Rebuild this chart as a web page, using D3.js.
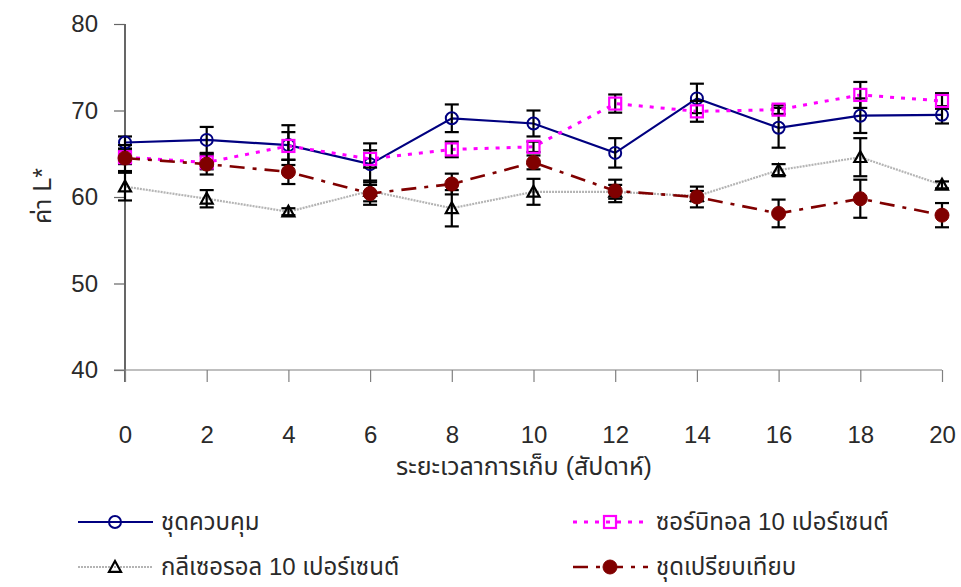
<!DOCTYPE html>
<html>
<head>
<meta charset="utf-8">
<script src="https://cdn.jsdelivr.net/npm/d3@7"></script>
<style>
  html, body { margin: 0; padding: 0; background: #fff; }
  svg { display: block; }
  text { font-family: "Liberation Sans", Arial, "Noto Sans Thai", "Noto Sans", sans-serif; fill: #2a2a2a; }
</style>
</head>
<body>
<svg id="chart" width="961" height="587"></svg>
<script>
// Storage time (weeks)
const weeks = [0, 2, 4, 6, 8, 10, 12, 14, 16, 18, 20];

// L* values with error (±) per treatment
const control       = [66.3, 66.6, 66.0, 63.8, 69.1, 68.5, 65.1, 71.4, 68.0, 69.4, 69.5];
const controlErr    = [0.7, 1.5, 2.3, 2.4, 1.6, 1.5, 1.7, 1.7, 2.3, 2.0, 1.0];
const sorbitol      = [64.6, 64.0, 65.9, 64.4, 65.5, 65.8, 70.8, 69.9, 70.1, 71.8, 71.1];
const sorbitolErr   = [0.8, 0.8, 1.6, 1.0, 0.9, 0.6, 1.05, 1.2, 0.5, 1.5, 0.9];
const glycerol      = [61.2, 59.8, 58.3, 60.7, 58.7, 60.6, 60.6, 60.1, 63.1, 64.6, 61.4];
const glycerolErr   = [1.6, 1.0, 0.4, 1.2, 2.1, 1.5, 0.8, 0.6, 0.7, 2.2, 0.4];
const comparison    = [64.5, 63.8, 62.9, 60.4, 61.5, 64.0, 60.7, 60.0, 58.1, 59.8, 57.9];
const comparisonErr = [1.5, 1.2, 1.4, 1.3, 1.2, 0.8, 1.3, 1.2, 1.6, 2.2, 1.4];

const yTicks = [40, 50, 60, 70, 80];
const seriesNames = ["ชุดควบคุม", "ซอร์บิทอล 10 เปอร์เซนต์", "กลีเซอรอล 10 เปอร์เซนต์", "ชุดเปรียบเทียบ"];
const xTitle = "ระยะเวลาการเก็บ (สัปดาห์)";
const yTitle = "ค่า L*";

const svg = d3.select("#chart");
const x = d3.scaleLinear().domain([0, 20]).range([125, 942]);
const y = d3.scaleLinear().domain([40, 80]).range([370, 24]);

// Axes
const yAxis = svg.append("g").attr("transform", "translate(125,0)")
  .call(d3.axisLeft(y).tickValues(yTicks).tickSize(11).tickPadding(16).tickFormat(d3.format("d")));
yAxis.select(".domain").attr("stroke", "#000").attr("stroke-width", 1.2).attr("d", "M0,24V382");
yAxis.selectAll(".tick line").attr("stroke", "#666").attr("stroke-width", 1.2);
yAxis.selectAll(".tick text").style("font-size", "24px").attr("fill", "#2a2a2a");

const xAxis = svg.append("g").attr("transform", "translate(0,370)")
  .call(d3.axisBottom(x).tickValues(weeks).tickSize(12).tickPadding(44).tickFormat(d3.format("d")));
xAxis.select(".domain").attr("stroke", "#808080").attr("stroke-width", 1.2).attr("d", "M114,0H942");
xAxis.selectAll(".tick line").attr("stroke", "#808080").attr("stroke-width", 1.2);
xAxis.selectAll(".tick text").style("font-size", "24px").attr("fill", "#2a2a2a");
xAxis.select(".domain").raise();

svg.append("text").attr("x", 524).attr("y", 475).attr("text-anchor", "middle")
  .style("font-size", "25px").text(xTitle);
svg.append("text").attr("transform", "translate(51,196) rotate(-90)").attr("text-anchor", "middle")
  .style("font-size", "25px").text(yTitle);

// Series styles
const styles = [
  { vals: control, err: controlErr, color: "#000080", width: 2.2, dash: null, marker: "circle" },
  { vals: sorbitol, err: sorbitolErr, color: "#ff00ff", width: 3, dash: "4,7", marker: "square" },
  { vals: glycerol, err: glycerolErr, color: "#b4b4b4", width: 2.2, dash: "2,1", marker: "triangle" },
  { vals: comparison, err: comparisonErr, color: "#800000", width: 2.6, dash: "15,8,4,8", marker: "dot" }
];

function drawMarker(g, kind, cx, cy, color, legend) {
  if (kind === "circle") {
    g.append("circle").attr("cx", cx).attr("cy", cy).attr("r", 6)
      .attr("fill", "none").attr("stroke", color).attr("stroke-width", 2);
  } else if (kind === "square") {
    g.append("rect").attr("x", cx - 6).attr("y", cy - 6).attr("width", 12).attr("height", 12)
      .attr("fill", "none").attr("stroke", color).attr("stroke-width", 2.2);
  } else if (kind === "triangle") {
    const s = 6;
    g.append("path").attr("d", `M${cx},${cy - s}L${cx + s},${cy + s * 0.8}L${cx - s},${cy + s * 0.8}Z`)
      .attr("fill", "none").attr("stroke", "#000").attr("stroke-width", 2.2);
  } else {
    g.append("circle").attr("cx", cx).attr("cy", cy).attr("r", 7)
      .attr("fill", color).attr("stroke", color).attr("stroke-width", 1);
  }
}

const line = d3.line().x((d, i) => x(weeks[i])).y(d => y(d));

styles.forEach(s => {
  const g = svg.append("g");
  g.append("path").datum(s.vals).attr("d", line).attr("fill", "none")
    .attr("stroke", s.color).attr("stroke-width", s.width)
    .attr("stroke-dasharray", s.dash);
  // error bars
  s.vals.forEach((v, i) => {
    const cx = x(weeks[i]);
    const top = y(v + s.err[i]), bot = y(v - s.err[i]);
    g.append("line").attr("x1", cx).attr("x2", cx).attr("y1", top).attr("y2", bot)
      .attr("stroke", "#000").attr("stroke-width", 2.2);
    [top, bot].forEach(yy => g.append("line").attr("x1", cx - 7).attr("x2", cx + 7)
      .attr("y1", yy).attr("y2", yy).attr("stroke", "#000").attr("stroke-width", 2.2));
  });
  s.vals.forEach((v, i) => drawMarker(g, s.marker, x(weeks[i]), y(v), s.color, false));
});

// Legend (two columns)
const legendPos = [
  { lx: 78, ly: 522 },
  { lx: 573, ly: 522 },
  { lx: 78, ly: 567 },
  { lx: 573, ly: 567 }
];
styles.forEach((s, i) => {
  const p = legendPos[i];
  const g = svg.append("g");
  g.append("line").attr("x1", p.lx).attr("x2", p.lx + 75).attr("y1", p.ly).attr("y2", p.ly)
    .attr("stroke", s.color).attr("stroke-width", s.width).attr("stroke-dasharray", s.dash);
  drawMarker(g, s.marker, p.lx + 37, p.ly, s.color, true);
  g.append("text").attr("x", p.lx + 83).attr("y", p.ly).attr("dy", "0.35em")
    .style("font-size", "24px").text(seriesNames[i]);
});
</script>
</body>
</html>
